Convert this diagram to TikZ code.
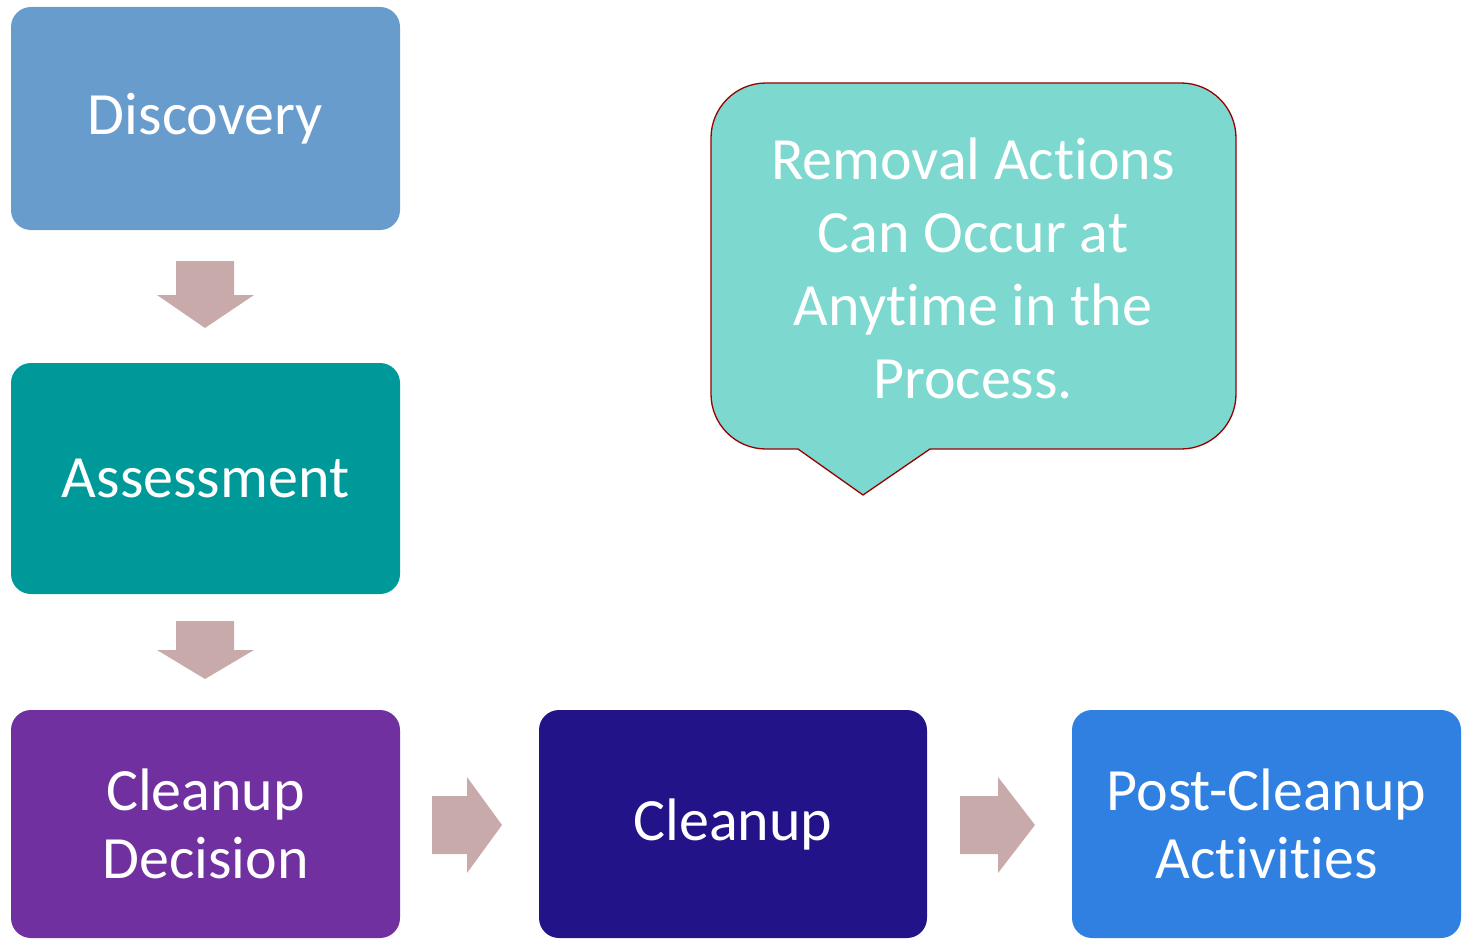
\documentclass[tikz,border=0pt]{standalone}
\usepackage{fontspec}
\setmainfont{Carlito}[RawFeature={-liga;-clig}]
\definecolor{cdisc}{RGB}{104,156,204}
\definecolor{cass}{RGB}{0,153,153}
\definecolor{cdec}{RGB}{112,48,160}
\definecolor{cclean}{RGB}{34,20,136}
\definecolor{cpost}{RGB}{47,128,224}
\definecolor{ccall}{RGB}{125,216,207}
\definecolor{ccallb}{RGB}{153,0,0}
\definecolor{carrow}{RGB}{201,170,170}
\begin{document}
\begin{tikzpicture}[x=1pt,y=-1pt,
  stepbox/.style={rectangle, rounded corners=20pt, inner sep=0pt, minimum width=389pt,
    text=white, align=center, font=\fontsize{60}{68}\selectfont},
  blockarrow/.style={fill=carrow, draw=none}]
\useasboundingbox (0,0) rectangle (1462,939);
\node[stepbox, fill=cdisc, minimum height=223pt] (disc) at (205.5,118.5) {Discovery};
\node[stepbox, fill=cass, minimum height=231pt] (ass) at (205.5,478.5) {Assessment};
\node[stepbox, fill=cdec, minimum height=228pt] (dec) at (205.5,824) {Cleanup\\Decision};
\node[stepbox, fill=cclean, minimum height=228pt, minimum width=388pt] (clean) at (733,824) {Cleanup};
\node[stepbox, fill=cpost, minimum height=228pt] (post) at (1266.5,824) {Post-Cleanup\\Activities};
% block arrows
\fill[blockarrow] (176,261) -- (234,261) -- (234,295) -- (254,295) -- (205,328) -- (157,295) -- (176,295) -- cycle;
\fill[blockarrow] (176,621) -- (234,621) -- (234,650) -- (254,650) -- (205,679) -- (157,650) -- (176,650) -- cycle;
\fill[blockarrow] (432,796) -- (467,796) -- (467,777) -- (502,825) -- (467,873) -- (467,854) -- (432,854) -- cycle;
\fill[blockarrow] (960,796) -- (998,796) -- (998,777) -- (1035,825) -- (998,873) -- (998,854) -- (960,854) -- cycle;
% callout
\draw[fill=ccall, draw=ccallb, line width=1.3pt, line join=round]
  (798,449) -- (863,495) -- (930,449) -- (1181,449)
  arc[start angle=90, end angle=0, radius=55] -- (1236,138)
  arc[start angle=0, end angle=-90, radius=55] -- (766,83)
  arc[start angle=-90, end angle=-180, radius=55] -- (711,394)
  arc[start angle=180, end angle=90, radius=55] -- cycle;
\node[text=white, align=center, font=\fontsize{60}{73}\selectfont, inner sep=0pt] (call) at (973,268)
  {Removal Actions\\Can Occur at\\Anytime in the\\Process.};
\end{tikzpicture}
\end{document}
